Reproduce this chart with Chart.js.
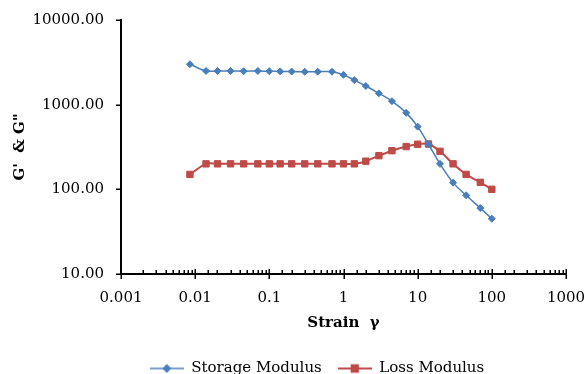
<!DOCTYPE html>
<html>
<head>
<meta charset="utf-8">
<script src="https://cdn.jsdelivr.net/npm/chart.js@4/dist/chart.umd.min.js"></script>
<style>
  html, body { margin: 0; padding: 0; background: #fff; overflow: hidden; }
  #wrap { width: 585px; height: 374px; }
</style>
</head>
<body>
<div id="wrap"><canvas id="chart"></canvas></div>
<script>
// strain sweep, values
const strain = [0.0085, 0.014, 0.02, 0.03, 0.045, 0.07, 0.1, 0.14, 0.2, 0.3, 0.45, 0.7, 1,
    1.4, 2, 3, 4.5, 7, 10, 14, 20, 30, 45, 70, 100];
const storageModulus = [3000, 2500, 2500, 2500, 2480, 2500, 2480, 2470, 2460, 2450, 2450, 2450, 2250,
    1950, 1660, 1360, 1100, 800, 550, 340, 200, 120, 85, 60, 45];
const lossModulus = [150, 200, 200, 200, 200, 200, 200, 200, 200, 200, 200, 200, 200,
    200, 215, 250, 286, 320, 341, 343, 281, 200, 150, 121, 100];

const xTickLabels = [0.001, 0.01, 0.1, 1, 10, 100, 1000];
const yTickLabels = [10, 100, 1000, 10000];

const seriesNames = ["Storage Modulus", "Loss Modulus"];
const blue = "#4A7EBB";
const red = "#BE4B48";

Chart.defaults.font.family = "'DejaVu Serif', serif";
Chart.defaults.font.size = 15;
Chart.defaults.color = "#000";

function isPow10(v) {
    let l = Math.log10(v);
    return Math.abs(l - Math.round(l)) < 1e-6;
}

function legendIcon(color, pointStyle, radius, lineWidth) {
    let c = document.createElement("canvas");
    c.width = 34;
    c.height = 12;
    let g = c.getContext("2d");
    g.strokeStyle = color;
    g.lineWidth = lineWidth;
    g.beginPath();
    g.moveTo(0, 6);
    g.lineTo(34, 6);
    g.stroke();
    g.fillStyle = color;
    Chart.helpers.drawPoint(g, {pointStyle: pointStyle, radius: radius, borderWidth: 1, rotation: 0}, 17, 6);
    return c;
}
const legendIcons = [legendIcon(blue, "rectRot", 3.5, 1.5), legendIcon(red, "rect", 4.5, 2)];

// axis tick marks: minor ticks sit inside on x, majors cross the axis
const tickMarks = {
    id: "tickMarks",
    afterLayout(chart) {
        // nudge legend to where the original had it
        let lg = chart.legend;
        lg.left += 34;
        lg.right += 34;
        lg.top += 6;
        lg.bottom += 6;
    },
    afterDraw(chart) {
        let ctx = chart.ctx;
        let xs = chart.scales.x;
        let ys = chart.scales.y;
        let y0 = chart.chartArea.bottom;
        let x0 = chart.chartArea.left;
        ctx.save();
        ctx.strokeStyle = "#000";
        ctx.lineWidth = 1.5;
        ctx.beginPath();
        for (let t of xs.ticks) {
            let px = Math.round(xs.getPixelForValue(t.value)) + 0.25;
            if (isPow10(t.value)) {
                ctx.moveTo(px, y0 - 5);
                ctx.lineTo(px, y0 + 5);
            } else {
                ctx.moveTo(px, y0 - 4);
                ctx.lineTo(px, y0);
            }
        }
        for (let t of ys.ticks) {
            if (!isPow10(t.value)) continue;
            let py = Math.round(ys.getPixelForValue(t.value)) + 0.25;
            ctx.moveTo(x0 - 5, py);
            ctx.lineTo(x0, py);
        }
        ctx.stroke();
        ctx.restore();
    }
};

let chartData = {
    datasets: [
        {
            label: seriesNames[0],
            data: strain.map((s, i) => ({x: s, y: storageModulus[i]})),
            borderColor: blue,
            backgroundColor: blue,
            borderWidth: 1.5,
            pointStyle: "rectRot",
            pointRadius: 3.5,
            pointBorderWidth: 1,
            tension: 0.35
        },
        {
            label: seriesNames[1],
            data: strain.map((s, i) => ({x: s, y: lossModulus[i]})),
            borderColor: red,
            backgroundColor: red,
            borderWidth: 2,
            pointStyle: "rect",
            pointRadius: 4.5,
            pointBorderWidth: 1,
            tension: 0.35
        }
    ]
};

let chartOptions = {
    responsive: true,
    maintainAspectRatio: false,
    animation: false,
    layout: {padding: {top: 20, right: 19, left: 0, bottom: 0}},
    plugins: {
        tooltip: {enabled: false},
        legend: {
            position: "bottom",
            maxHeight: 35,
            labels: {
                usePointStyle: true,
                pointStyleWidth: 34,
                padding: 16,
                font: {size: 15},
                generateLabels: chart => chart.data.datasets.map((d, i) => ({
                    text: d.label,
                    pointStyle: legendIcons[i],
                    fillStyle: d.borderColor,
                    strokeStyle: d.borderColor,
                    lineWidth: 0,
                    hidden: false,
                    datasetIndex: i
                }))
            }
        }
    },
    scales: {
        x: {
            type: "logarithmic",
            min: 0.001,
            max: 1000,
            border: {display: true, color: "#000", width: 2},
            grid: {display: false, drawTicks: false},
            ticks: {
                autoSkip: false,
                maxRotation: 0,
                padding: 15,
                callback: v => {
                    let t = xTickLabels.find(l => Math.abs(l / v - 1) < 1e-6);
                    return t === undefined ? "" : String(t);
                }
            },
            title: {
                display: true,
                text: "Strain  γ",
                font: {weight: "bold", size: 15},
                padding: {top: 0, bottom: 7}
            },
            afterFit: s => {
                s.height = 65;
                s.paddingLeft = 0;
                s.paddingRight = 0;
            }
        },
        y: {
            type: "logarithmic",
            min: 10,
            max: 10000,
            border: {display: true, color: "#000", width: 2},
            grid: {display: false, drawTicks: false},
            ticks: {
                autoSkip: false,
                padding: 17,
                callback: v => {
                    let t = yTickLabels.find(l => Math.abs(l / v - 1) < 1e-6);
                    return t === undefined ? "" : t.toFixed(2);
                }
            },
            title: {
                display: true,
                text: "G'  & G\"",
                font: {weight: "bold", size: 15},
                padding: {top: 11, bottom: 0}
            },
            afterFit: s => {
                s.width = 121;
                s.paddingTop = 0;
                s.paddingBottom = 0;
            }
        }
    }
};

new Chart(document.getElementById("chart"), {
    type: "line",
    data: chartData,
    options: chartOptions,
    plugins: [tickMarks]
});
</script>
</body>
</html>
